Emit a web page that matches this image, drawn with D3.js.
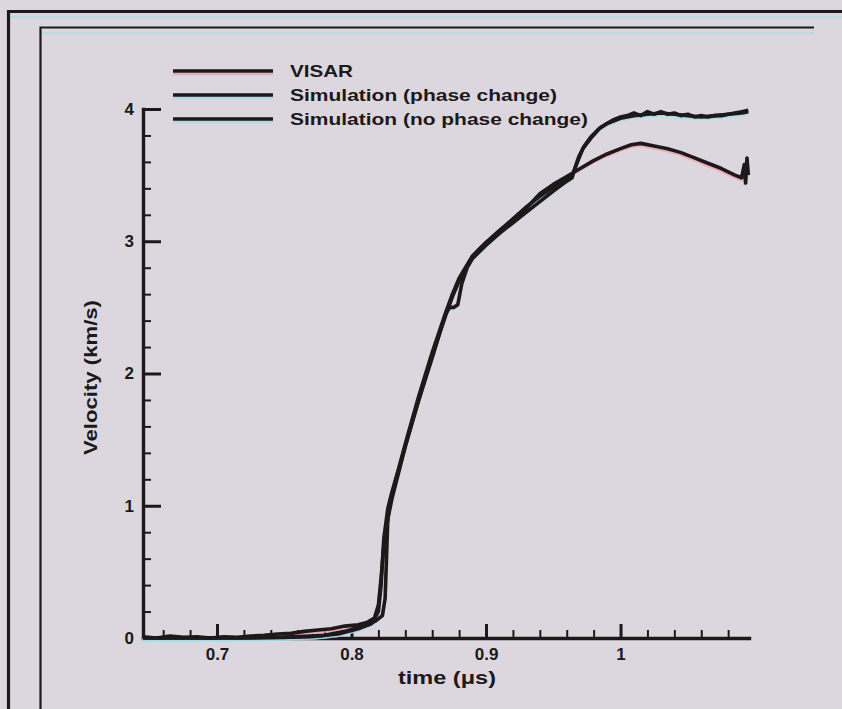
<!DOCTYPE html>
<meta charset="utf-8">
<style>
    body {
        margin: 0;
        background: #dcd7de;
    }

    svg {
        display: block;
        font-family: 'Liberation Sans', Arial, sans-serif;
    }
</style>
<svg width="842" height="709"></svg>
<script src="https://d3js.org/d3.v7.min.js"></script>
<script>
    // axis setup
    var xDomain = [0.645, 1.0955];
    var yDomain = [0, 4];
    var xTicks = [0.7, 0.8, 0.9, 1];
    var yTicks = [0, 1, 2, 3, 4];
    var seriesNames = ["VISAR", "Simulation (phase change)", "Simulation (no phase change)"];

    // [time (us), velocity (km/s)]
    var visar = [[0.645, 0.01], [0.655, 0.0], [0.665, 0.015], [0.675, 0.005], [0.685, 0.01], [0.695, 0.0],
        [0.705, 0.01], [0.715, 0.005], [0.725, 0.015], [0.735, 0.02], [0.745, 0.03], [0.755, 0.035],
        [0.765, 0.05], [0.775, 0.06], [0.785, 0.07], [0.795, 0.09], [0.805, 0.1], [0.812, 0.12],
        [0.817, 0.15], [0.82, 0.25], [0.822, 0.45], [0.824, 0.7], [0.827, 0.9], [0.83, 1.05],
        [0.835, 1.25], [0.84, 1.45], [0.845, 1.63], [0.85, 1.8], [0.855, 1.97], [0.86, 2.13],
        [0.865, 2.29], [0.87, 2.44], [0.875, 2.58], [0.88, 2.7], [0.885, 2.8], [0.89, 2.88],
        [0.895, 2.94], [0.9, 2.99], [0.91, 3.08], [0.92, 3.16], [0.93, 3.25], [0.94, 3.36],
        [0.95, 3.43], [0.96, 3.49], [0.965, 3.52], [0.97, 3.55], [0.98, 3.61], [0.99, 3.66],
        [1.0, 3.7], [1.008, 3.73], [1.015, 3.74], [1.025, 3.72], [1.035, 3.7], [1.045, 3.67],
        [1.055, 3.63], [1.065, 3.59], [1.075, 3.55], [1.085, 3.5], [1.09, 3.48], [1.092, 3.58],
        [1.093, 3.44], [1.094, 3.63], [1.095, 3.5]];

    var simPhase = [[0.645, 0], [0.7, 0], [0.75, 0.005], [0.78, 0.02], [0.795, 0.05], [0.805, 0.08],
        [0.812, 0.1], [0.818, 0.13], [0.823, 0.17], [0.825, 0.3], [0.826, 0.6], [0.827, 0.9],
        [0.829, 1.05], [0.835, 1.27], [0.84, 1.45], [0.85, 1.8], [0.86, 2.12], [0.866, 2.32],
        [0.87, 2.45], [0.873, 2.5], [0.876, 2.5], [0.879, 2.52], [0.882, 2.68], [0.886, 2.8],
        [0.89, 2.87], [0.9, 2.97], [0.91, 3.06], [0.92, 3.14], [0.93, 3.22], [0.94, 3.3],
        [0.95, 3.38], [0.958, 3.44], [0.964, 3.48], [0.966, 3.55], [0.969, 3.64], [0.973, 3.72],
        [0.978, 3.79], [0.984, 3.85], [0.99, 3.89], [0.995, 3.92], [1.0, 3.94], [1.005, 3.95],
        [1.01, 3.97], [1.015, 3.95], [1.02, 3.98], [1.025, 3.96], [1.03, 3.98], [1.035, 3.96],
        [1.04, 3.97], [1.045, 3.95], [1.05, 3.96], [1.055, 3.94], [1.06, 3.95], [1.065, 3.94],
        [1.07, 3.95], [1.075, 3.95], [1.08, 3.96], [1.085, 3.97], [1.09, 3.98], [1.095, 3.99]];

    var simNoPhase = [[0.645, 0], [0.72, 0], [0.77, 0.01], [0.79, 0.03], [0.805, 0.07], [0.815, 0.11],
        [0.82, 0.2], [0.822, 0.4], [0.824, 0.75], [0.827, 0.98], [0.83, 1.1], [0.835, 1.28],
        [0.84, 1.47], [0.85, 1.83], [0.86, 2.16], [0.87, 2.46], [0.875, 2.6], [0.88, 2.72],
        [0.89, 2.89], [0.9, 2.99], [0.91, 3.08], [0.92, 3.17], [0.93, 3.26], [0.94, 3.34],
        [0.95, 3.41], [0.96, 3.47], [0.965, 3.52], [0.968, 3.6], [0.972, 3.7], [0.978, 3.78],
        [0.985, 3.86], [0.99, 3.89], [1.0, 3.93], [1.01, 3.95], [1.02, 3.96], [1.03, 3.97],
        [1.04, 3.96], [1.05, 3.95], [1.06, 3.94], [1.07, 3.95], [1.08, 3.96], [1.09, 3.97],
        [1.095, 3.98]];

    var svg = d3.select("svg");
    var ink = "#1d1819";

    // paper
    svg.append("rect").attr("width", 842).attr("height", 709).attr("fill", "#dcd7de");

    // frame lines of the scanned page (with faint cyan misprint under them)
    svg.append("path").attr("d", "M8,17H842").attr("stroke", "#a9dde4").attr("stroke-width", 2).attr("opacity", 0.6);
    svg.append("path").attr("d", "M40,33H814").attr("stroke", "#a9dde4").attr("stroke-width", 2).attr("opacity", 0.6);
    svg.append("path").attr("d", "M8.5,709V11.5H842").attr("fill", "none").attr("stroke", ink).attr("stroke-width", 3.2);
    svg.append("path").attr("d", "M40.5,709V27.5H814").attr("fill", "none").attr("stroke", ink).attr("stroke-width", 2.2);

    var x = d3.scaleLinear().domain(xDomain).range([143, 749]);
    var y = d3.scaleLinear().domain(yDomain).range([638, 109]);

    var xMinor = d3.range(0.66, 1.09, 0.02).filter(function (v) {
        return xTicks.every(function (t) { return Math.abs(t - v) > 0.005; });
    });
    var yMinor = d3.range(0.2, 4, 0.2).filter(function (v) {
        return yTicks.every(function (t) { return Math.abs(t - v) > 0.05; });
    });

    // minor ticks
    svg.append("g")
        .attr("transform", "translate(0,638)")
        .call(d3.axisBottom(x).tickValues(xMinor).tickSize(-8).tickSizeOuter(0).tickFormat(""))
        .call(function (g) { g.select(".domain").remove(); })
        .selectAll("line").attr("stroke", ink).attr("stroke-width", 2);
    svg.append("g")
        .attr("transform", "translate(143,0)")
        .call(d3.axisLeft(y).tickValues(yMinor).tickSize(-8).tickSizeOuter(0).tickFormat(""))
        .call(function (g) { g.select(".domain").remove(); })
        .selectAll("line").attr("stroke", ink).attr("stroke-width", 2);

    // major ticks + labels
    var gx = svg.append("g")
        .attr("transform", "translate(0,638)")
        .call(d3.axisBottom(x).tickValues(xTicks).tickSize(-14).tickSizeOuter(0).tickPadding(10)
            .tickFormat(d3.format("")));
    var gy = svg.append("g")
        .attr("transform", "translate(143,0)")
        .call(d3.axisLeft(y).tickValues(yTicks).tickSize(-18).tickSizeOuter(0).tickPadding(9)
            .tickFormat(d3.format("d")));

    [gx, gy].forEach(function (g) {
        g.attr("font-size", null).attr("font-family", null);
        g.select(".domain").attr("stroke", ink).attr("stroke-width", 3.4).attr("stroke-linecap", "square");
        g.selectAll(".tick line").attr("stroke", ink).attr("stroke-width", 3);
        g.selectAll(".tick text")
            .attr("fill", ink)
            .style("font-size", "17px")
            .style("font-weight", "bold");
    });

    // axis titles
    svg.append("text")
        .attr("x", 398).attr("y", 684)
        .attr("font-size", 19).attr("font-weight", "bold").attr("fill", ink)
        .attr("textLength", 98).attr("lengthAdjust", "spacingAndGlyphs")
        .text("time (\u03bcs)");

    svg.append("text")
        .attr("transform", "translate(97,455) rotate(-90)")
        .attr("font-size", 19).attr("font-weight", "bold").attr("fill", ink)
        .attr("textLength", 155).attr("lengthAdjust", "spacingAndGlyphs")
        .text("Velocity (km/s)");

    // curves
    var line = d3.line()
        .x(function (d) { return x(d[0]); })
        .y(function (d) { return y(d[1]); });

    var series = [
        {name: seriesNames[0], data: visar, shadow: "#f2a2ab"},
        {name: seriesNames[1], data: simPhase, shadow: "#9fdfe8"},
        {name: seriesNames[2], data: simNoPhase, shadow: "#9fdfe8"}
    ];

    var plot = svg.append("g");
    series.forEach(function (s) {
        plot.append("path")
            .datum(s.data)
            .attr("d", line)
            .attr("transform", "translate(-1,2.5)")
            .attr("fill", "none")
            .attr("stroke", s.shadow)
            .attr("stroke-width", 2)
            .attr("opacity", 0.8);
    });
    series.forEach(function (s) {
        plot.append("path")
            .datum(s.data)
            .attr("d", line)
            .attr("fill", "none")
            .attr("stroke", ink)
            .attr("stroke-width", 3.6)
            .attr("stroke-linejoin", "round");
    });

    // legend
    var legendY = [71, 95, 119];
    var legendW = [63, 267, 298];
    var legend = svg.append("g")
        .selectAll("g")
        .data(series)
        .enter().append("g")
        .attr("transform", function (d, i) {
            return "translate(0," + legendY[i] + ")";
        });

    legend.append("line")
        .attr("x1", 173).attr("x2", 273).attr("y1", 3).attr("y2", 3)
        .attr("stroke", function (d) { return d.shadow; })
        .attr("stroke-width", 2.5).attr("opacity", 0.8);
    legend.append("line")
        .attr("x1", 173).attr("x2", 273)
        .attr("stroke", ink).attr("stroke-width", 3.4);
    legend.append("text")
        .attr("x", 290).attr("y", 6)
        .attr("font-size", 17).attr("font-weight", "bold").attr("fill", ink)
        .attr("textLength", function (d, i) { return legendW[i]; })
        .attr("lengthAdjust", "spacingAndGlyphs")
        .text(function (d) { return d.name; });
</script>
